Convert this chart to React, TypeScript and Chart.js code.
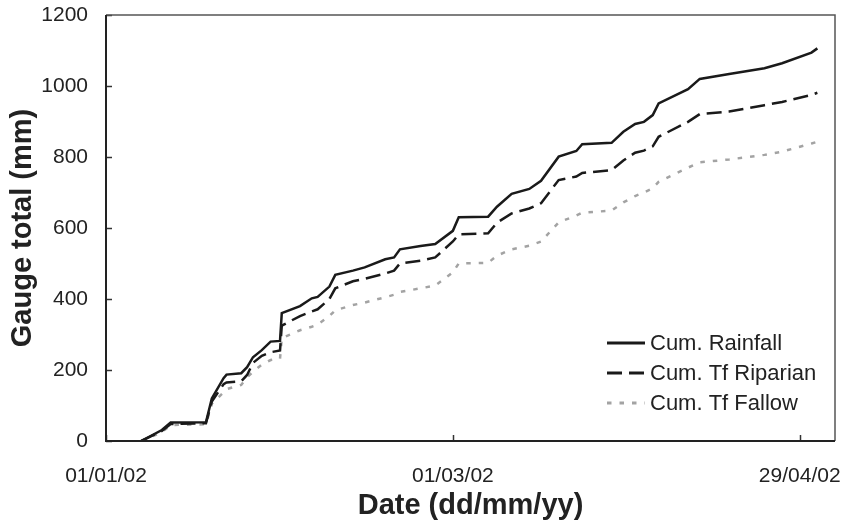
import { useEffect, useRef } from "react";
import { Chart, registerables } from "chart.js";

Chart.register(...registerables);

// Days since 01/01/02 for each gauge reading
const days = [6, 9.5, 11, 17, 18, 20, 20.5, 23, 24, 25, 26.5, 28, 29.6, 29.9, 33, 35, 36, 38, 39, 42, 44, 47.5, 49, 50, 53.5, 56, 59, 60, 65, 66.5, 69, 72, 74, 77, 80, 81, 86, 88, 90, 91.5, 93, 94, 99, 101, 106, 112, 115, 120, 121];

const cumRainfall = [0, 31, 52, 53, 120, 177, 187, 191, 208, 236, 256, 280, 282, 360, 380, 402, 406, 435, 468, 480, 489, 512, 517, 540, 549, 555, 592, 630, 632, 660, 696, 710, 733, 801, 817, 836, 840, 871, 893, 899, 918, 951, 991, 1020, 1034, 1050, 1064, 1094, 1106];

const cumTfRiparian = [0, 28, 48, 50, 111, 160, 165, 168, 186, 220, 240, 250, 255, 325, 352, 365, 371, 400, 430, 450, 457, 472, 480, 500, 508, 517, 562, 582, 585, 615, 641, 655, 670, 735, 745, 755, 763, 790, 812, 818, 830, 857, 899, 921, 928, 946, 955, 975, 981];

const cumTfFallow = [0, 25, 45, 47, 105, 137, 146, 158, 180, 195, 215, 228, 232, 290, 312, 322, 328, 352, 368, 383, 390, 405, 412, 420, 430, 438, 475, 500, 502, 522, 540, 550, 562, 616, 635, 643, 649, 672, 690, 700, 712, 730, 770, 785, 793, 806, 815, 838, 843];

const seriesLabels = ["Cum. Rainfall", "Cum. Tf Riparian", "Cum. Tf Fallow"];

const xTickDays = [0, 59, 118];
const xTickLabels = ["01/01/02", "01/03/02", "29/04/02"];

const FONT = "'Liberation Sans', Arial, Helvetica, sans-serif";
const TEXT = "#222222";

const framePlugin = {
  id: "frameTicks",
  afterDatasetsDraw(chart: any) {
    const { ctx, chartArea: a, scales } = chart;
    ctx.save();
    ctx.setLineDash([]);
    ctx.strokeStyle = "#333333";
    ctx.lineWidth = 1.5;
    scales.y.ticks.forEach((t: any) => {
      const py = Math.round(scales.y.getPixelForValue(t.value)) + 0.5;
      ctx.beginPath();
      ctx.moveTo(a.left, py);
      ctx.lineTo(a.left + 6, py);
      ctx.stroke();
    });
    scales.x.ticks.forEach((t: any) => {
      const px = Math.round(scales.x.getPixelForValue(t.value)) + 0.5;
      ctx.beginPath();
      ctx.moveTo(px, a.bottom);
      ctx.lineTo(px, a.bottom - 6);
      ctx.stroke();
    });
    // top and right border
    ctx.strokeStyle = "#555555";
    ctx.lineWidth = 1.5;
    ctx.beginPath();
    ctx.moveTo(a.left, a.top);
    ctx.lineTo(a.right, a.top);
    ctx.lineTo(a.right, a.bottom);
    ctx.stroke();
    // left and bottom axis
    ctx.strokeStyle = "#222222";
    ctx.lineWidth = 2;
    ctx.beginPath();
    ctx.moveTo(a.left, a.top);
    ctx.lineTo(a.left, a.bottom);
    ctx.lineTo(a.right, a.bottom);
    ctx.stroke();
    ctx.restore();
  },
};

const legendPlugin = {
  id: "insideLegend",
  afterDraw(chart: any) {
    const { ctx, chartArea: a } = chart;
    const x0 = a.right - 228;
    const lineLen = 38;
    const rows = [a.bottom - 98, a.bottom - 68, a.bottom - 38];
    ctx.save();
    chart.data.datasets.forEach((ds: any, i: number) => {
      const y = rows[i];
      ctx.strokeStyle = ds.borderColor;
      ctx.lineWidth = ds.borderWidth + 0.5;
      ctx.setLineDash(ds.borderDash || []);
      ctx.lineCap = "butt";
      ctx.beginPath();
      ctx.moveTo(x0, y);
      ctx.lineTo(x0 + lineLen, y);
      ctx.stroke();
      ctx.setLineDash([]);
      ctx.fillStyle = TEXT;
      ctx.font = `22px ${FONT}`;
      ctx.textBaseline = "middle";
      ctx.textAlign = "left";
      ctx.fillText(ds.label, x0 + lineLen + 5, y + 1);
    });
    ctx.restore();
  },
};

export default function App() {
  const canvasRef = useRef<HTMLCanvasElement | null>(null);

  useEffect(() => {
    document.body.style.margin = "0";
    const canvas = canvasRef.current;
    if (!canvas) return;
    const toPts = (vals: number[]) => days.map((d, i) => ({ x: d, y: vals[i] }));
    const chart = new Chart(canvas, {
      type: "line",
      data: {
        datasets: [
          {
            label: seriesLabels[0],
            data: toPts(cumRainfall),
            borderColor: "#1a1a1a",
            borderWidth: 2.5,
            pointRadius: 0,
            tension: 0,
            fill: false,
          },
          {
            label: seriesLabels[1],
            data: toPts(cumTfRiparian),
            borderColor: "#1a1a1a",
            borderWidth: 2.5,
            borderDash: [15, 7],
            pointRadius: 0,
            tension: 0,
            fill: false,
          },
          {
            label: seriesLabels[2],
            data: toPts(cumTfFallow),
            borderColor: "#a3a3a3",
            borderWidth: 2.5,
            borderDash: [4.5, 8],
            pointRadius: 0,
            tension: 0,
            fill: false,
          },
        ],
      },
      options: {
        responsive: false,
        animation: false,
        events: [],
        layout: { padding: { top: 15, right: 8, bottom: 0, left: 0 } },
        plugins: {
          legend: { display: false },
          tooltip: { enabled: false },
          title: { display: false },
        },
        scales: {
          x: {
            type: "linear",
            min: 0,
            max: 124,
            grid: { display: false },
            border: { display: false },
            afterBuildTicks: (s: any) => {
              s.ticks = xTickDays.map((v) => ({ value: v }));
            },
            afterFit: (s: any) => {
              s.height = 83;
              s.paddingLeft = 0;
              s.paddingRight = 0;
            },
            ticks: {
              autoSkip: false,
              maxRotation: 0,
              padding: 15,
              color: TEXT,
              font: { family: FONT, size: 21 },
              callback: (_v: any, i: number) => xTickLabels[i] ?? "",
            },
            title: {
              display: true,
              text: "Date (dd/mm/yy)",
              color: TEXT,
              font: { family: FONT, size: 29, weight: "bold" },
              padding: { top: 0, bottom: 1 },
            },
          },
          y: {
            min: 0,
            max: 1200,
            grid: { display: false },
            border: { display: false },
            afterFit: (s: any) => {
              s.width = 106;
              s.paddingTop = 0;
              s.paddingBottom = 0;
            },
            ticks: {
              stepSize: 200,
              padding: 10,
              color: TEXT,
              font: { family: FONT, size: 21 },
              callback: (v: any) => String(v),
            },
            title: {
              display: true,
              text: "Gauge total (mm)",
              color: TEXT,
              font: { family: FONT, size: 29, weight: "bold" },
              padding: { top: 6, bottom: 0 },
            },
          },
        },
      },
      plugins: [framePlugin, legendPlugin],
    } as any);
    return () => chart.destroy();
  }, []);

  return (
    <div style={{ position: "fixed", left: 0, top: 0, width: 843, height: 524, background: "#fff" }}>
      <canvas ref={canvasRef} width={843} height={524} style={{ display: "block" }} />
    </div>
  );
}
